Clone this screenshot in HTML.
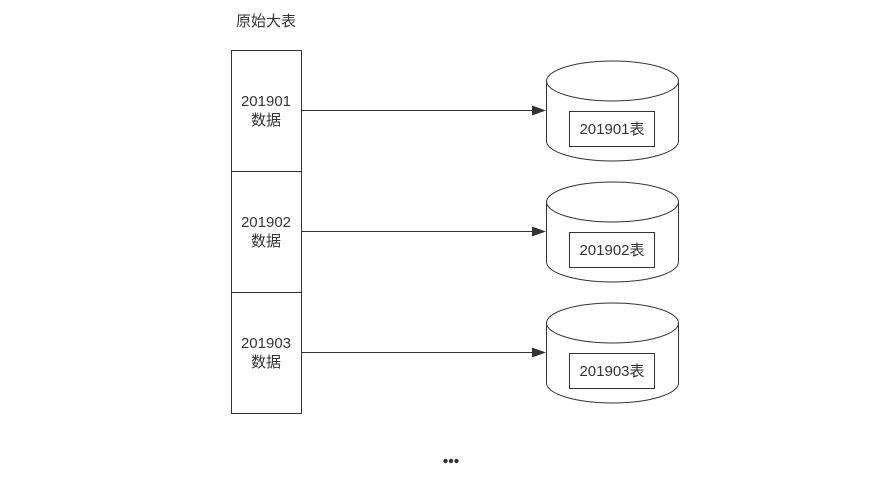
<!DOCTYPE html>
<html><head><meta charset="utf-8"><style>
html,body{margin:0;padding:0;background:#fff;width:890px;height:481px;overflow:hidden}
text{font-family:"Liberation Sans","Noto Sans CJK SC",sans-serif;font-size:15px;fill:#333}
</style></head><body>
<svg width="890" height="481" xmlns="http://www.w3.org/2000/svg">
<text x="236" y="26">原始大表</text>
<g fill="#fff" stroke="#333" stroke-width="1">
<rect x="231.5" y="50.5" width="70" height="121"/>
<rect x="231.5" y="171.5" width="70" height="121"/>
<rect x="231.5" y="292.5" width="70" height="121"/>
</g>
<g text-anchor="middle">
<text x="266" y="106">201901</text><text x="266" y="125">数据</text>
<text x="266" y="227">201902</text><text x="266" y="246">数据</text>
<text x="266" y="348">201903</text><text x="266" y="367">数据</text>
</g>
<g id="c">
<path d="M546.5,81 L546.5,141 A66,20 0 0 0 678.5,141 L678.5,81" fill="#fff" stroke="#333"/>
<ellipse cx="612.5" cy="81" rx="66" ry="20" fill="#fff" stroke="#333"/>
<rect x="569.5" y="111.5" width="85" height="35" fill="#fff" stroke="#333"/>
<line x1="301.5" y1="110.5" x2="534" y2="110.5" stroke="#333"/>
<path d="M532,105.5 L546,110.5 L532,115.5 Z" fill="#333"/>
</g>
<use href="#c" y="121"/>
<use href="#c" y="242"/>
<g text-anchor="middle">
<text x="612" y="134">201901表</text>
<text x="612" y="255">201902表</text>
<text x="612" y="376">201903表</text>
</g>
<g fill="#333">
<circle cx="445.5" cy="461" r="2.2"/>
<circle cx="451" cy="461" r="2.2"/>
<circle cx="456.5" cy="461" r="2.2"/>
</g>
</svg>
</body></html>
